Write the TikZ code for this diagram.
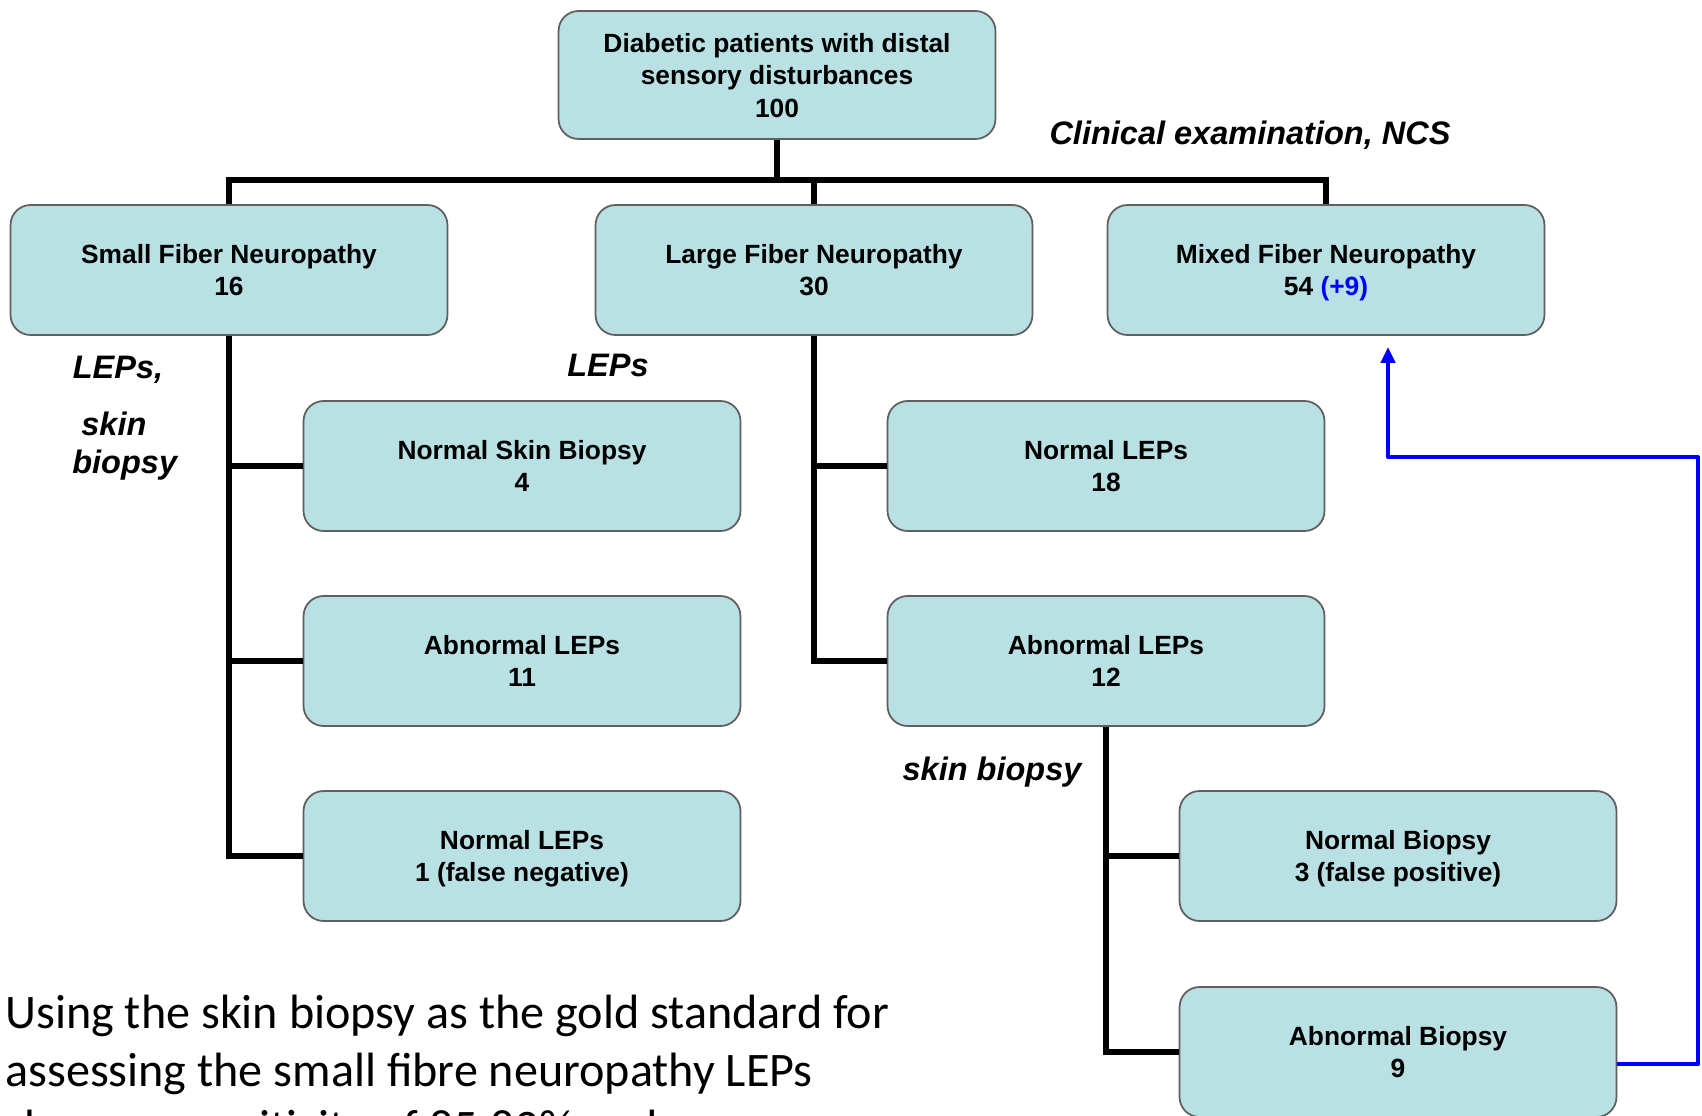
\documentclass[tikz,border=0pt]{standalone}
\usepackage{fontspec}
\setmainfont{Liberation Sans}
\newfontfamily\notefont{Carlito}
\usetikzlibrary{arrows.meta}
\definecolor{boxfill}{RGB}{185,224,227}
\definecolor{boxline}{RGB}{95,95,95}
\definecolor{plusblue}{RGB}{0,0,255}

\begin{document}
\begin{tikzpicture}[x=0.02cm,y=-0.02cm,
        box/.style={draw=boxline,line width=1pt,fill=boxfill,rounded corners=0.4cm,
            minimum width=8.74cm,minimum height=2.6cm,align=center,inner sep=0pt,text depth=0pt,
            font=\fontsize{15}{18.5}\selectfont\bfseries},
        link/.style={line width=2.9pt},
        feedback/.style={draw=plusblue,line width=2.2pt,line join=round,-{Triangle[length=9pt,width=8pt]}},
        tag/.style={inner sep=0pt,font=\fontsize{18.5}{21.5}\selectfont\bfseries\itshape},
        note/.style={inner sep=0pt,align=left,font=\notefont\fontsize{27.4}{32.6}\selectfont}]
        \useasboundingbox (0,0) rectangle (1702,1115);
        \clip (0,0) rectangle (1702,1115);

        % first split
        \node[box,minimum height=2.56cm] (top) at (777,75) {Diabetic patients with distal\\sensory disturbances\\100};
        \node[box] (small) at (229,270) {Small Fiber Neuropathy\\16};
        \node[box] (large) at (814,270) {Large Fiber Neuropathy\\30};
        \node[box] (mixed) at (1326,270) {Mixed Fiber Neuropathy\\54 {\color{plusblue}(+9)}};
        \coordinate (bus) at (777,180);
        \draw[link] (top.south) -- (bus);
        \draw[link] (small.north) |- (bus) -| (mixed.north);
        \draw[link] (large.north) -- (large.north |- bus);
        \node[tag] (clin) at (1250,135) {Clinical examination, NCS};

        % small fibre branch
        \node[box] (nsb) at (522,466) {Normal Skin Biopsy\\4};
        \node[box] (abl11) at (522,661) {Abnormal LEPs\\11};
        \node[box] (nl1) at (522,856) {Normal LEPs\\1 (false negative)};
        \draw[link] (small.south) |- (nl1.west);
        \draw[link] (small.south |- nsb) -- (nsb.west);
        \draw[link] (small.south |- abl11) -- (abl11.west);
        \node[tag] (lepsa) at (118,370) {LEPs,};
        \node[tag,align=left,anchor=west] (skina) at (72,446) {\ skin\\biopsy};

        % large fibre branch
        \node[box] (nl18) at (1106,466) {Normal LEPs\\18};
        \node[box] (abl12) at (1106,661) {Abnormal LEPs\\12};
        \draw[link] (large.south) |- (abl12.west);
        \draw[link] (large.south |- nl18) -- (nl18.west);
        \node[tag] (lepsb) at (608,365) {LEPs};

        % biopsy of abnormal LEPs
        \node[box] (nb3) at (1398,856) {Normal Biopsy\\3 (false positive)};
        \node[box] (ab9) at (1398,1052) {Abnormal Biopsy\\9};
        \draw[link] (abl12.south) |- (ab9.west);
        \draw[link] (abl12.south |- nb3) -- (nb3.west);
        \node[tag] (skinb) at (992,772) {skin biopsy};

        % back to mixed
        \coordinate (turn) at (1698,457);
        \coordinate (tip) at (1388,347);
        \draw[feedback] ([yshift=-0.24cm]ab9.east) -| (turn) -| (tip);

        \node[note,anchor=north west] (summary) at (5,995) {Using the skin biopsy as the gold standard for\\assessing the small fibre neuropathy LEPs\\shows a sensitivity of 85.83\% and};
    \end{tikzpicture}
\end{document}
